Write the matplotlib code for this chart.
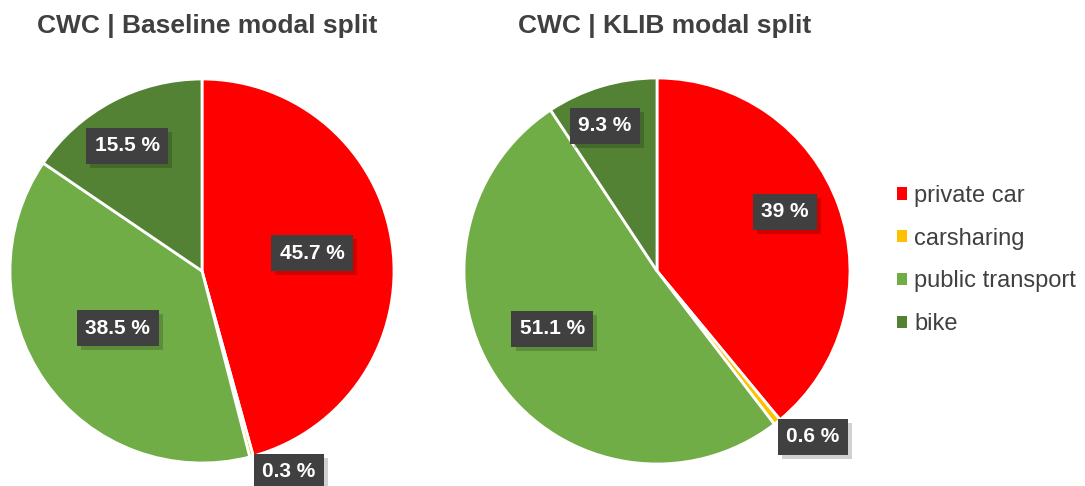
import numpy as np
import matplotlib
matplotlib.use("Agg")
import matplotlib.pyplot as plt
import matplotlib.patheffects as pe
from matplotlib.patches import Patch

plt.rcParams['font.family'] = ['Liberation Sans', 'DejaVu Sans']

# data
modes = ["private car", "carsharing", "public transport", "bike"]
baseline = [45.7, 0.3, 38.5, 15.5]
klib = [39, 0.6, 51.1, 9.3]
baseline_labels = ["45.7 %", "0.3 %", "38.5 %", "15.5 %"]
klib_labels = ["39 %", "0.6 %", "51.1 %", "9.3 %"]
titles = ["CWC | Baseline modal split", "CWC | KLIB modal split"]

colors = ["#FF0000", "#FFC000", "#70AD47", "#548235"]
text_grey = "#404040"

# label placement (fraction of radius, angle shift in degrees)
base_r = [0.58, 1.14, 0.53, 0.76]
base_da = [1.5, 8.5, -1.0, 3.0]
klib_r = [0.73, 1.18, 0.62, 0.80]
klib_da = [5.0, 4.7, -6.5, 3.0]

fig = plt.figure(figsize=(10.85, 4.86), dpi=100)
W, H = 1085, 486


def draw_pie(rect, values, labels, radii, dangles):
    ax = fig.add_axes(rect)
    wedges, _ = ax.pie(values, colors=colors, startangle=90, counterclock=False,
                       wedgeprops=dict(edgecolor="white", linewidth=2))
    ax.set_xlim(-1, 1)
    ax.set_ylim(-1, 1)
    ax.set_aspect("equal")
    for w, lab, r, da in zip(wedges, labels, radii, dangles):
        mid = np.deg2rad((w.theta1 + w.theta2) / 2 + da)
        x, y = r * np.cos(mid), r * np.sin(mid)
        t = ax.text(x, y, lab, ha="center", va="center", fontsize=15,
                    fontweight="bold", color="white", clip_on=False, zorder=5,
                    bbox=dict(boxstyle="square,pad=0.4", fc=text_grey, ec="none"))
        # soft drop shadow behind the label box
        t.get_bbox_patch().set_path_effects([
            pe.SimplePatchShadow(offset=(3, -3), shadow_rgbFace="black", alpha=0.18),
            pe.Normal()])
    return ax


draw_pie([(202 - 192) / W, (H - 271 - 192) / H, 384 / W, 384 / H],
         baseline, baseline_labels, base_r, base_da)
draw_pie([(657 - 193) / W, (H - 271 - 193) / H, 386 / W, 386 / H],
         klib, klib_labels, klib_r, klib_da)

fig.text(207 / W, 1 - 26 / H, titles[0], ha="center", va="center",
         fontsize=19, fontweight="bold", color=text_grey)
fig.text(665 / W, 1 - 26 / H, titles[1], ha="center", va="center",
         fontsize=19, fontweight="bold", color=text_grey)

handles = [Patch(facecolor=c, edgecolor="none") for c in colors]
leg = fig.legend(handles, modes, loc="center left", bbox_to_anchor=(876 / W, 1 - 260 / H),
                 frameon=False, fontsize=17, handlelength=0.42, handleheight=0.42,
                 handletextpad=0.3, labelspacing=0.88, labelcolor=text_grey)

fig.savefig("out.png", dpi=100)
